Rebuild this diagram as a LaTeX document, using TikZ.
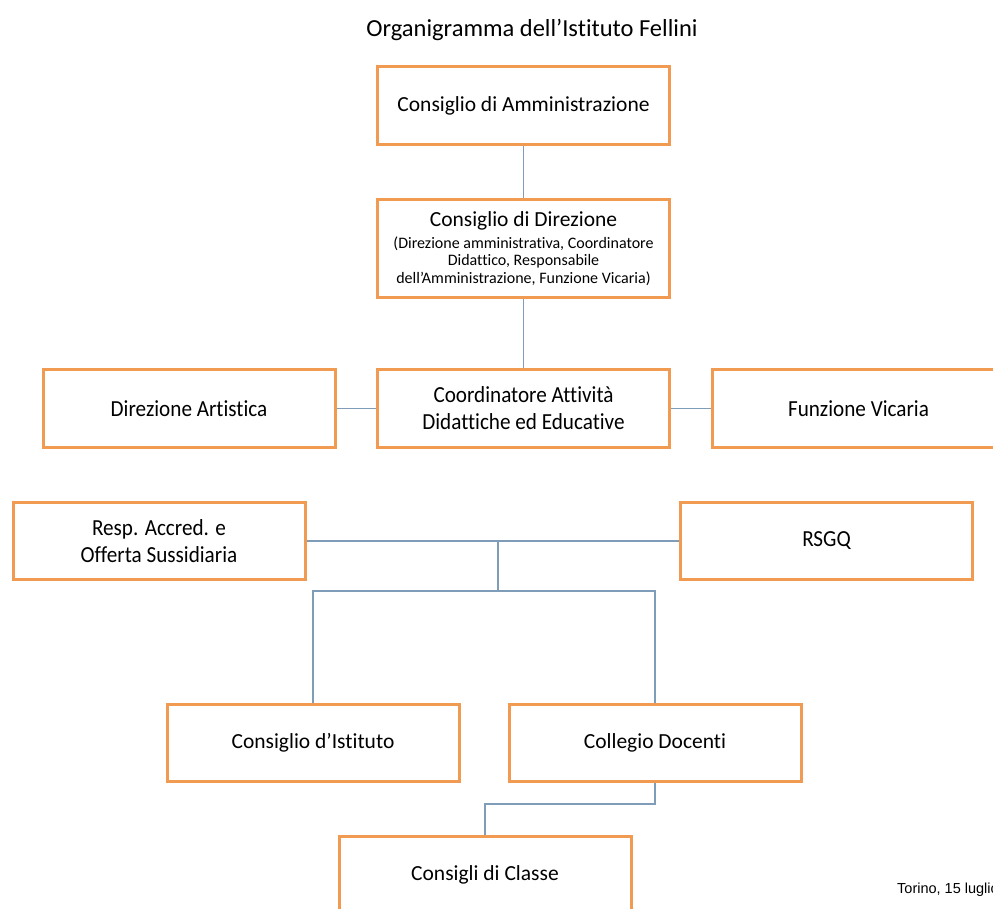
\documentclass[tikz,border=0pt]{standalone}
\usepackage{fontspec}
\setmainfont{Carlito}[Ligatures=NoCommon]
\newfontfamily\condfont{Carlito}[FakeStretch=0.92,Ligatures=NoCommon]
\newfontfamily\arialfont{Liberation Sans}
\definecolor{boxorange}{HTML}{F09A52}
\definecolor{linkblue}{HTML}{7F9CB8}
\begin{document}
\begin{tikzpicture}[x=1pt,y=-1pt,
  orgbox/.style={draw=boxorange, line width=3pt, fill=white, minimum width=292pt,
    inner sep=0pt, align=center, font=\fontsize{21.5}{26}\selectfont},
  condbox/.style={orgbox, font=\condfont\fontsize{23}{27}\selectfont},
  link/.style={draw=linkblue, line width=1.4pt}]
\clip (0,0) rectangle (993,909);
\fill[white] (0,0) rectangle (993,909);
\node[font=\fontsize{24.5}{28}\selectfont] (title) at (532,30) {Organigramma dell’Istituto Fellini};
\node[orgbox, minimum height=78pt] (cda) at (523.5,105.5) {Consiglio di Amministrazione};
\node[orgbox, minimum height=98pt, font=\fontsize{16}{17.5}\selectfont] (cdd) at (523.5,248.5) {{\fontsize{21.5}{26}\selectfont Consiglio di Direzione}\\[4pt](Direzione amministrativa, Coordinatore\\Didattico, Responsabile\\dell’Amministrazione, Funzione Vicaria)};
\node[condbox, minimum height=78pt] (coord) at (523.5,408.5) {Coordinatore Attività\\Didattiche ed Educative};
\node[condbox, minimum height=78pt] (da) at (189,408.5) {Direzione Artistica};
\node[condbox, minimum height=78pt] (fv) at (858.5,408.5) {Funzione Vicaria};
\node[condbox, minimum height=77pt] (resp) at (159,541) {Resp. Accred. e\\Offerta Sussidiaria};
\node[condbox, minimum height=77pt] (rsgq) at (826.5,541) {RSGQ};
\node[orgbox, minimum height=77pt] (ci) at (313,743) {Consiglio d’Istituto};
\node[orgbox, minimum height=77pt] (cdoc) at (655,743) {Collegio Docenti};
\node[orgbox, minimum height=77pt] (cc) at (485,875) {Consigli di Classe};
\node[font=\arialfont\fontsize{14.5}{18}\selectfont, anchor=west, inner sep=0pt] (date) at (897,890) {Torino, 15 luglio};
\coordinate (j1) at (498,541);
\coordinate (j2) at (498,591);
\coordinate (j3) at (485,804);
\draw[link] (cda.south) -- (cdd.north);
\draw[link] (cdd.south) -- (coord.north);
\draw[link] (da.east) -- (coord.west);
\draw[link] (coord.east) -- (fv.west);
\draw[link] (resp.east) -- (rsgq.west);
\draw[link] (j1) -- (j2);
\draw[link] (ci.north) |- (j2) -| (cdoc.north);
\draw[link] (cdoc.south) |- (j3) -- (cc.north);
\end{tikzpicture}
\end{document}
